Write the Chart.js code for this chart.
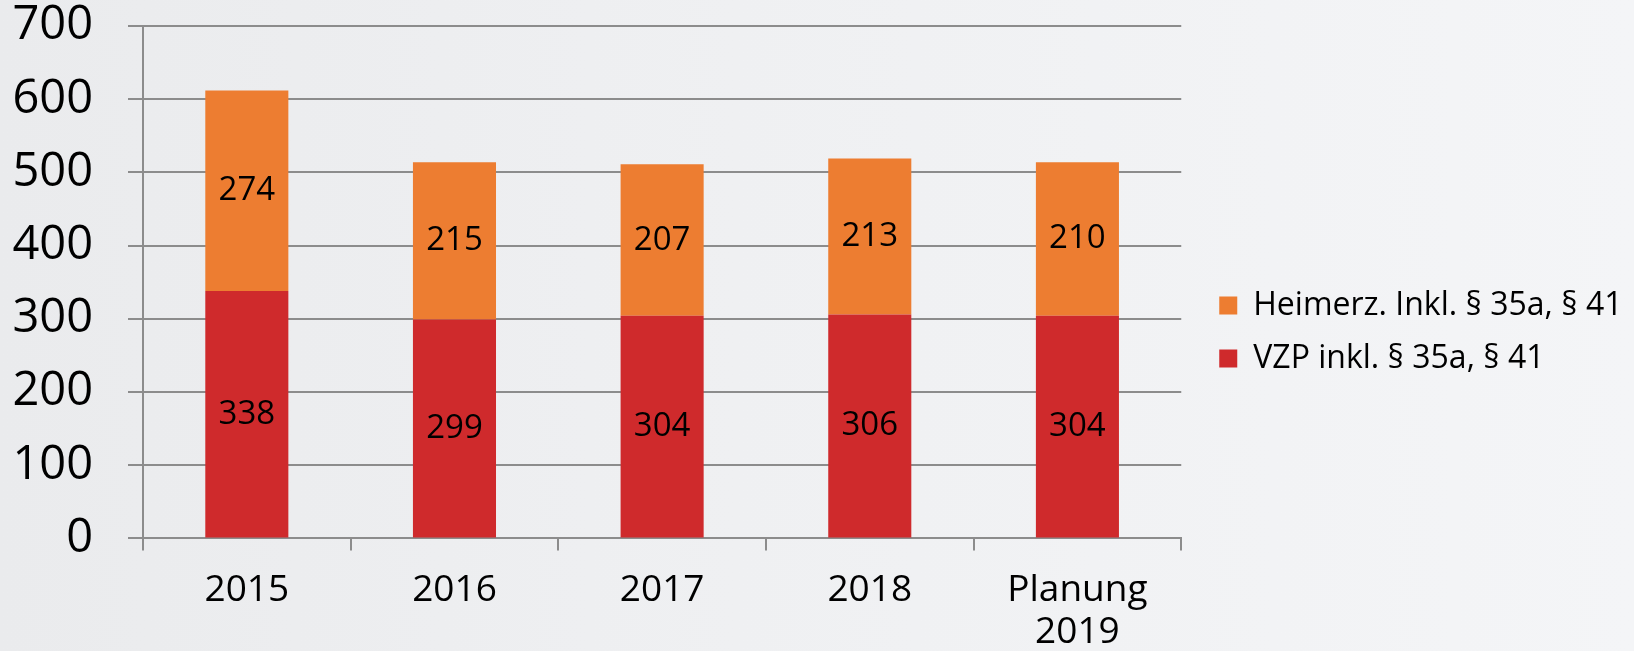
<!DOCTYPE html>
<html>
<head>
<meta charset="utf-8">
<script src="https://cdn.jsdelivr.net/npm/chart.js@4"></script>
<style>
  html, body { margin: 0; padding: 0; }
  body {
    width: 1634px; height: 651px; overflow: hidden;
    background: linear-gradient(90deg, #eaebed 0%, #eff0f2 45%, #f4f5f7 100%);
  }
  canvas { display: block; }
</style>
</head>
<body>
<canvas id="chart" width="1634" height="651"></canvas>
<script>
const years = ['2015', '2016', '2017', '2018', ['Planung', '2019']];
const vzp = [338, 299, 304, 306, 304];
const heimerz = [274, 215, 207, 213, 210];

const gridColor = '#8c8c8c';

// draws the value in the middle of each bar segment
const segmentLabels = {
    id: 'segmentLabels',
    afterDatasetsDraw(chart) {
        const ctx = chart.ctx;
        ctx.save();
        ctx.font = '33px "Open Sans"';
        ctx.fillStyle = '#000';
        ctx.textAlign = 'center';
        ctx.textBaseline = 'middle';
        chart.data.datasets.forEach((ds, i) => {
            chart.getDatasetMeta(i).data.forEach((bar, j) => {
                const p = bar.getProps(['x', 'y', 'base'], true);
                ctx.fillText(ds.data[j], p.x, (p.y + p.base) / 2);
            });
        });
        ctx.restore();
    }
};

// moves the legend a bit away from the plot, and keeps its text from being clipped
const legendGap = {
    id: 'legendGap',
    afterLayout(chart) {
        const lg = chart.legend;
        lg.left += 17;
        lg.right = chart.width + 200;
        lg.width = lg.right - lg.left;
        lg.top -= 4;
        lg.bottom -= 4;
    }
};

const ctx = document.getElementById('chart');

new Chart(ctx, {
    type: 'bar',
    data: {
        labels: years,
        datasets: [{
            label: 'VZP inkl. § 35a, § 41',
            data: vzp,
            backgroundColor: '#cf2a2c',
            barPercentage: 0.4,
            categoryPercentage: 1
        }, {
            label: 'Heimerz. Inkl. § 35a, § 41',
            data: heimerz,
            backgroundColor: '#ed7d31',
            barPercentage: 0.4,
            categoryPercentage: 1
        }]
    },
    options: {
        responsive: false,
        animation: false,
        devicePixelRatio: 1,
        layout: { padding: { left: 0, top: 0, right: 59, bottom: -21 } },
        plugins: {
            tooltip: { enabled: false },
            legend: {
                position: 'right',
                reverse: true,
                labels: {
                    font: { family: 'Open Sans', size: 32 },
                    color: '#000',
                    boxWidth: 18,
                    boxHeight: 18,
                    padding: 21
                }
            }
        },
        scales: {
            x: {
                stacked: true,
                grid: {
                    drawOnChartArea: false,
                    color: gridColor,
                    lineWidth: 2,
                    tickLength: 12
                },
                border: { color: gridColor, width: 2 },
                ticks: {
                    color: '#000',
                    padding: 19,
                    font: { family: 'Open Sans', size: 37, lineHeight: 1.13 }
                }
            },
            y: {
                stacked: true,
                min: 0,
                max: 700,
                afterFit(axis) {
                    axis.width = 143;
                    axis.paddingTop = 26;
                },
                grid: {
                    color: gridColor,
                    lineWidth: 2,
                    tickLength: 15
                },
                border: { color: gridColor, width: 2 },
                ticks: {
                    stepSize: 100,
                    color: '#000',
                    padding: 35,
                    font: { family: 'Open Sans', size: 47 }
                }
            }
        }
    },
    plugins: [segmentLabels, legendGap]
});
</script>
</body>
</html>
